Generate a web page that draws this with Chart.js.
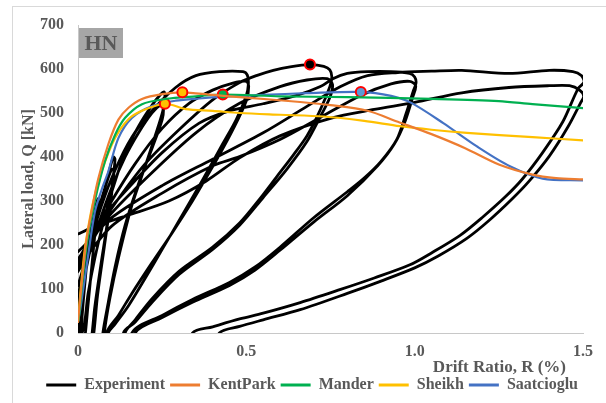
<!DOCTYPE html>
<html>
<head>
<meta charset="utf-8">
<script src="https://cdn.jsdelivr.net/npm/chart.js@4.4.1/dist/chart.umd.min.js"></script>
<style>
  html, body { margin: 0; padding: 0; background: #ffffff; overflow: hidden; }
  #wrap { position: relative; width: 606px; height: 403px; }
  #frame { position: absolute; left: 12px; top: 6px; width: 700px; height: 500px; border: 1px solid #d9d9d9; pointer-events: none; }
  canvas { position: absolute; left: 0; top: 0; }
</style>
</head>
<body>
<div id="wrap">
  <div id="frame"></div>
  <canvas id="chart" width="606" height="403"></canvas>
</div>
<script>
// Axis ticks
const xTicks = [0, 0.5, 1, 1.5];
const yTicks = [0, 100, 200, 300, 400, 500, 600, 700];

// Experimental hysteresis: [drift %, load kN] per loading cycle
const cycle003 = [[0,0],[0.012,100],[0.024,185],[0.03,205],[0.026,160],[0.016,75],[0.008,0],[-0.01,-110],[-0.03,-200],[-0.02,-60]];
const cycle005 = [[0,40],[0.02,140],[0.04,235],[0.055,295],[0.06,305],[0.054,255],[0.042,160],[0.03,65],[0.022,0],[0,-150],[-0.05,-300],[-0.03,-100]];
const cycle010a = [[0,55],[0.02,130],[0.045,220],[0.07,300],[0.09,360],[0.105,400],[0.11,395],[0.102,340],[0.087,250],[0.067,150],[0.05,60],[0.042,0],[0.01,-200],[-0.1,-400],[-0.05,-120]];
const cycle010b = [[0,75],[0.02,150],[0.05,250],[0.08,330],[0.1,372],[0.107,370],[0.098,305],[0.078,195],[0.058,85],[0.047,0],[0.01,-200],[-0.1,-380],[-0.03,-30]];
const cycle025a = [[0.012,0],[0.03,90],[0.05,170],[0.075,250],[0.1,320],[0.14,410],[0.18,470],[0.22,518],[0.245,542],[0.255,548],[0.258,538],[0.252,505],[0.23,450],[0.2,380],[0.16,290],[0.12,170],[0.095,80],[0.078,0],[0.04,-250],[-0.2,-500],[-0.1,-200],[-0.03,40]];
const cycle025b = [[0,90],[0.03,170],[0.06,245],[0.1,330],[0.14,400],[0.18,455],[0.22,500],[0.248,520],[0.254,515],[0.25,485],[0.22,420],[0.18,340],[0.14,245],[0.11,150],[0.09,70],[0.074,0],[0.04,-250],[-0.25,-480],[-0.1,-150],[-0.04,60]];
const cycle050a = [[0,110],[0.03,190],[0.07,290],[0.11,370],[0.16,445],[0.22,505],[0.29,558],[0.35,585],[0.42,594],[0.49,594],[0.503,586],[0.506,565],[0.5,540],[0.47,485],[0.43,430],[0.39,375],[0.35,321],[0.3,255],[0.25,190],[0.2,125],[0.15,62],[0.11,20],[0.09,0],[0.05,-200],[-0.5,-550],[-0.2,-100],[-0.05,105]];
const cycle050b = [[0,150],[0.05,230],[0.1,300],[0.17,385],[0.25,465],[0.33,522],[0.4,552],[0.46,568],[0.5,572],[0.507,560],[0.5,528],[0.46,462],[0.42,405],[0.38,352],[0.34,300],[0.28,228],[0.22,160],[0.16,90],[0.12,40],[0.085,0],[0.05,-200],[-0.5,-540],[-0.2,-80],[-0.05,120]];
const cycle075a = [[0,140],[0.06,235],[0.12,305],[0.2,385],[0.3,462],[0.4,530],[0.48,569],[0.53,585],[0.58,597],[0.63,605],[0.689,610],[0.73,606],[0.748,598],[0.754,582],[0.748,560],[0.72,508],[0.68,448],[0.64,405],[0.59,355],[0.54,305],[0.48,250],[0.4,195],[0.3,140],[0.22,78],[0.17,30],[0.14,0],[0.1,-200],[-0.75,-580],[-0.3,-100],[-0.05,130]];
const cycle075b = [[0,160],[0.08,255],[0.2,350],[0.35,455],[0.48,522],[0.6,560],[0.68,575],[0.74,578],[0.756,565],[0.748,535],[0.72,492],[0.68,435],[0.62,372],[0.55,308],[0.48,245],[0.4,190],[0.3,133],[0.22,70],[0.17,25],[0.135,0],[0.1,-200],[-0.75,-560],[-0.3,-80],[-0.05,150]];
const cycle100a = [[0,168],[0.06,250],[0.15,330],[0.25,410],[0.36,477],[0.45,505],[0.55,521],[0.65,540],[0.72,560],[0.757,578],[0.8,590],[0.86,594],[0.93,594],[0.985,590],[1.0,582],[1.004,568],[0.995,548],[0.975,500],[0.947,440],[0.9,390],[0.85,352],[0.8,321],[0.7,262],[0.6,195],[0.526,150],[0.45,115],[0.34,76],[0.25,40],[0.16,0],[0.1,-200],[-1,-580],[-0.3,-50],[-0.05,140]];
const cycle100b = [[0,154],[0.1,243],[0.25,318],[0.4,380],[0.48,401],[0.6,440],[0.72,490],[0.84,540],[0.93,566],[0.985,572],[1.003,562],[0.995,538],[0.972,482],[0.94,430],[0.89,380],[0.8,312],[0.7,252],[0.6,188],[0.526,143],[0.45,108],[0.34,70],[0.25,35],[0.17,0],[0.1,-200],[-1,-560],[-0.3,-40],[-0.05,165]];
const cycle150a = [[0,185],[0.1,262],[0.25,335],[0.4,395],[0.55,455],[0.68,515],[0.78,560],[0.86,585],[0.95,592],[1.05,595],[1.14,597],[1.28,590],[1.4,597],[1.47,594],[1.495,585],[1.503,570],[1.485,555],[1.44,480],[1.38,410],[1.32,350],[1.27,310],[1.2,262],[1.135,222],[1.05,182],[0.986,155],[0.88,125],[0.78,99],[0.66,69],[0.55,45],[0.48,32],[0.4,14],[0.34,0],[0.2,-200],[-1.5,-560],[-0.4,0],[-0.05,215]];
const cycle150b = [[0,225],[0.05,243],[0.15,268],[0.27,300],[0.38,345],[0.48,398],[0.6,448],[0.75,488],[0.88,508],[1.0,524],[1.14,546],[1.28,558],[1.4,562],[1.46,562],[1.49,552],[1.502,538],[1.492,522],[1.455,468],[1.4,402],[1.34,345],[1.29,305],[1.22,255],[1.155,215],[1.07,175],[1.0,148],[0.9,118],[0.8,90],[0.66,53],[0.55,30],[0.48,15],[0.42,0],[0.3,-150]];

// Analytical envelopes: [drift %, load kN]
const kentPark = [[0,25],[0.012,120],[0.025,210],[0.04,275],[0.06,350],[0.09,429],[0.12,485],[0.15,512],[0.19,532],[0.25,543],[0.31,547],[0.4,541],[0.5,535],[0.66,525],[0.75,518],[0.86,505],[0.95,480],[1.05,452],[1.15,420],[1.25,383],[1.35,360],[1.42,352],[1.5,349]];
const mander = [[0.002,30],[0.015,130],[0.03,220],[0.05,300],[0.08,390],[0.11,450],[0.14,489],[0.19,520],[0.26,532],[0.35,538],[0.43,542],[0.6,538],[0.8,536],[1.05,532],[1.25,527],[1.35,520],[1.5,511]];
const sheikh = [[0,25],[0.01,115],[0.022,200],[0.045,298],[0.07,367],[0.11,443],[0.15,486],[0.19,505],[0.258,521],[0.32,509],[0.4,505],[0.48,500],[0.6,496],[0.73,492],[0.85,482],[0.956,470],[1.05,462],[1.155,455],[1.35,445],[1.5,438]];
const saatcioglu = [[0,25],[0.008,60],[0.027,160],[0.05,275],[0.07,325],[0.09,367],[0.12,443],[0.16,489],[0.22,516],[0.29,528],[0.36,533],[0.44,537],[0.55,541],[0.68,545],[0.84,548],[0.93,539],[0.99,523],[1.085,477],[1.185,424],[1.283,379],[1.38,351],[1.5,347]];

const toPts = arr => arr.map(([x, y]) => ({ x, y }));
const experiment = toPts([].concat(cycle003, cycle005, cycle010a, cycle010b, cycle025a, cycle025b,
  cycle050a, cycle050b, cycle075a, cycle075b, cycle100a, cycle100b, cycle150a, cycle150b));

// marker on the peak load of each curve
function peakRadius(pts) {
  let k = 0;
  pts.forEach((p, i) => { if (p.y > pts[k].y) k = i; });
  return ctx => (ctx.dataIndex === k ? 5 : 0);
}

const serif = "'Liberation Serif', 'Times New Roman', serif";
const grey = '#595959';
const axisLine = '#c8c8c8';

function series(label, arr, color, markerFill, width, order) {
  const pts = Array.isArray(arr[0]) ? toPts(arr) : arr;
  return {
    label, data: pts, showLine: true, order,
    borderColor: color, backgroundColor: color, borderWidth: width,
    tension: 0.3, clip: 0,
    borderCapStyle: 'round', borderJoinStyle: 'round',
    pointRadius: peakRadius(pts), pointHoverRadius: 0,
    pointBackgroundColor: markerFill, pointBorderColor: '#ff0000', pointBorderWidth: 2
  };
}

const hnTag = {
  id: 'hnTag',
  afterDraw(chart) {
    const { ctx, chartArea: a } = chart;
    ctx.save();
    ctx.fillStyle = '#a6a6a6';
    ctx.fillRect(a.left + 1, a.top + 3, 44, 30);
    ctx.fillStyle = grey;
    ctx.font = `bold 22px ${serif}`;
    ctx.textAlign = 'center';
    ctx.textBaseline = 'middle';
    ctx.fillText('HN', a.left + 23, a.top + 19);
    ctx.restore();
  }
};

const tickFont = { family: serif, size: 16, weight: 'bold' };
const xTitleFont = { family: serif, size: 17, weight: 'bold' };

new Chart(document.getElementById('chart'), {
  type: 'scatter',
  data: {
    datasets: [
      series('Experiment', experiment, '#000000', '#000000', 2.8, 2),
      series('KentPark', kentPark, '#ED7D31', '#FFC000', 2.2, 1),
      series('Mander', mander, '#00B050', '#00B050', 2.2, 1),
      series('Sheikh', sheikh, '#FFC000', '#FFC000', 2.2, 1),
      series('Saatcioglu', saatcioglu, '#4472C4', '#5B9BD5', 2.2, 1)
    ]
  },
  options: {
    responsive: false,
    animation: false,
    events: [],
    layout: { padding: { left: 0, right: 23, top: 25, bottom: 0 } },
    scales: {
      x: {
        type: 'linear', min: 0, max: 1.5,
        afterBuildTicks: s => { s.ticks = xTicks.map(v => ({ value: v })); },
        afterFit: s => { s.height = 39; },
        grid: { display: false, drawTicks: false },
        border: { display: true, color: axisLine, width: 1 },
        ticks: { font: tickFont, color: grey, padding: 9, maxRotation: 0, autoSkip: false },
        title: { display: true, text: 'Drift Ratio, R (%)    ', align: 'end', color: grey,
                 font: xTitleFont, padding: { top: 0, bottom: -6 } }
      },
      y: {
        type: 'linear', min: 0, max: 700,
        afterBuildTicks: s => { s.ticks = yTicks.map(v => ({ value: v })); },
        afterFit: s => { s.width = 78; },
        grid: { display: false, drawTicks: false },
        border: { display: true, color: axisLine, width: 1 },
        ticks: { font: tickFont, color: grey, padding: 14 },
        title: { display: true, text: 'Lateral load, Q [kN]', color: grey,
                 font: tickFont, padding: { top: 19, bottom: 0 } }
      }
    },
    plugins: {
      tooltip: { enabled: false },
      legend: {
        position: 'bottom',
        align: 'end',
        labels: {
          boxWidth: 30, boxHeight: 3, padding: 5, color: grey, font: tickFont,
          sort: (a, b) => a.datasetIndex - b.datasetIndex,
          generateLabels: chart => Chart.defaults.plugins.legend.labels.generateLabels(chart)
            .map(l => Object.assign(l, { lineWidth: 0, fillStyle: l.strokeStyle }))
        }
      }
    }
  },
  plugins: [hnTag]
});
</script>
</body>
</html>
